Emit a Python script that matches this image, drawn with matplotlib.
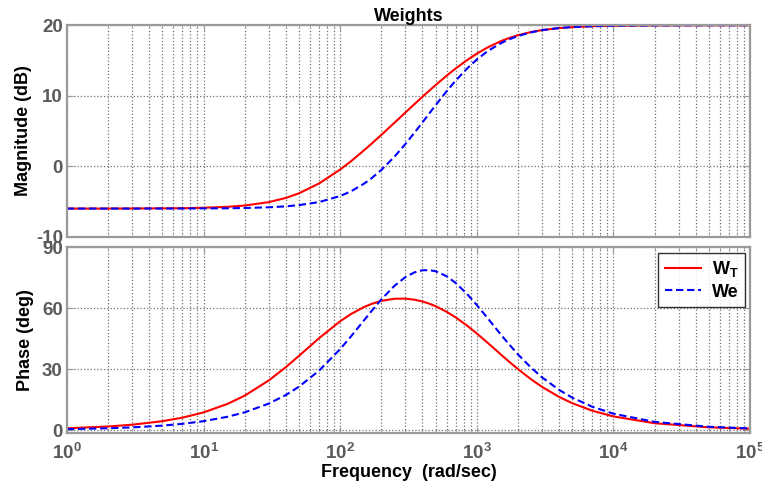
import matplotlib
matplotlib.use("Agg")
import matplotlib.pyplot as plt
from matplotlib.ticker import LogLocator, NullFormatter, FixedLocator

plt.rcParams['font.family'] = ['Liberation Sans', 'DejaVu Sans']
plt.rcParams['font.weight'] = 'bold'
plt.rcParams['axes.unicode_minus'] = False
plt.rcParams['mathtext.fontset'] = 'custom'
plt.rcParams['mathtext.rm'] = 'Liberation Sans:bold'
plt.rcParams['mathtext.it'] = 'Liberation Sans:bold'
plt.rcParams['mathtext.bf'] = 'Liberation Sans:bold'

# frequencies (rad/sec)
freq = [1, 2, 3, 5, 7, 10, 15, 20, 30, 40, 50, 70, 100, 120, 150, 170, 200, 250,
        300, 350, 400, 450, 500, 600, 700, 850, 1000, 1200, 1500, 1700, 2000,
        2500, 3000, 4000, 5000, 7000, 10000, 20000, 50000, 100000]

# W_T
wt_mag = [-6.02, -6.02, -6.01, -5.99, -5.97, -5.91, -5.77, -5.59, -5.11, -4.51,
          -3.85, -2.46, -0.48, 0.70, 2.28, 3.20, 4.44, 6.18, 7.61, 8.82,
          9.85, 10.74, 11.52, 12.83, 13.87, 15.07, 15.97, 16.86, 17.75, 18.15,
          18.59, 19.05, 19.32, 19.60, 19.74, 19.87, 19.93, 19.98, 20.0, 20.0]
wt_phase = [0.88, 1.76, 2.63, 4.38, 6.12, 8.70, 12.91, 16.96, 24.43, 30.98,
            36.58, 45.24, 53.59, 57.14, 60.64, 62.15, 63.62, 64.67, 64.72, 64.19,
            63.31, 62.21, 60.97, 58.28, 55.49, 51.40, 47.56, 42.98, 37.21, 34.01,
            30.02, 24.97, 21.28, 16.33, 13.22, 9.53, 6.71, 3.37, 1.35, 0.67]

# We
we_mag = [-6.02, -6.02, -6.02, -6.01, -6.01, -6.00, -5.98, -5.94, -5.84, -5.71,
          -5.53, -5.10, -4.24, -3.57, -2.47, -1.70, -0.54, 1.36, 3.14, 4.76,
          6.21, 7.51, 8.67, 10.61, 12.14, 13.88, 15.14, 16.33, 17.46, 17.96,
          18.48, 19.00, 19.31, 19.61, 19.75, 19.87, 19.94, 19.98, 20.0, 20.0]
we_phase = [0.44, 0.88, 1.32, 2.19, 3.07, 4.38, 6.56, 8.73, 13.03, 17.26,
            21.38, 29.25, 39.88, 46.14, 54.18, 58.70, 64.32, 71.08, 75.32, 77.66,
            78.68, 78.76, 78.18, 75.78, 72.46, 66.98, 61.58, 55.10, 47.02, 42.66,
            37.28, 30.68, 25.98, 19.78, 15.96, 11.48, 8.06, 4.04, 1.62, 0.80]

tick_grey = '#5a5a5a'
spine_grey = '#9a9a9a'

fig = plt.figure(figsize=(7.62, 4.93), dpi=100)
ax1 = fig.add_axes([0.0879, 0.5201, 0.8964, 0.4286])
ax2 = fig.add_axes([0.0879, 0.1223, 0.8964, 0.3761])


def style(ax):
    ax.set_xscale('log')
    ax.set_xlim(1, 1e5)
    ax.xaxis.set_major_locator(LogLocator(base=10, numticks=10))
    ax.xaxis.set_minor_locator(LogLocator(base=10, subs=range(2, 10), numticks=10))
    ax.xaxis.set_minor_formatter(NullFormatter())
    ax.grid(True, which='major', linestyle=':', color='#707070', linewidth=0.9)
    ax.grid(True, which='minor', axis='x', linestyle=':', color='#707070', linewidth=0.9)
    for s in ax.spines.values():
        s.set_color(spine_grey)
        s.set_linewidth(1.6)
    ax.tick_params(which='both', direction='in', top=True, right=True,
                   colors=spine_grey, labelcolor=tick_grey, labelsize=13.5)
    ax.tick_params(which='major', length=4, pad=3)
    ax.tick_params(which='minor', length=2)
    ax.tick_params(axis='x', which='major', pad=7)


ax1.plot(freq, wt_mag, color='#ff0000', lw=1.5)
ax1.plot(freq, we_mag, color='#0000ff', lw=1.5, ls='--', dashes=(3.5, 1.8))
style(ax1)
ax1.set_ylim(-10, 20)
ax1.yaxis.set_major_locator(FixedLocator([-10, 0, 10, 20]))
ax1.tick_params(labelbottom=False)
ax1.set_ylabel('Magnitude (dB)', fontsize=13, fontweight='bold')
ax1.yaxis.set_label_coords(-0.051, 0.5)
ax1.set_title('Weights', fontsize=13, fontweight='bold', pad=3)

ax2.plot(freq, wt_phase, color='#ff0000', lw=1.5, label='W$_{T}$')
ax2.plot(freq, we_phase, color='#0000ff', lw=1.5, ls='--', dashes=(3.5, 1.8), label='We')
style(ax2)
ax2.set_ylim(-1.3, 90)
ax2.yaxis.set_major_locator(FixedLocator([0, 30, 60, 90]))
ax2.set_ylabel('Phase (deg)', fontsize=13, fontweight='bold')
ax2.yaxis.set_label_coords(-0.049, 0.5)
ax2.set_xlabel('Frequency  (rad/sec)', fontsize=13, fontweight='bold', labelpad=1)

leg = ax2.legend(loc='upper right', fontsize=13, frameon=True, fancybox=False,
                 borderaxespad=0.3, handlelength=2.0, labelspacing=0.25,
                 borderpad=0.35, handletextpad=0.6)
leg.get_frame().set_edgecolor('black')
leg.get_frame().set_linewidth(1.0)

fig.savefig('out.png', dpi=100)
